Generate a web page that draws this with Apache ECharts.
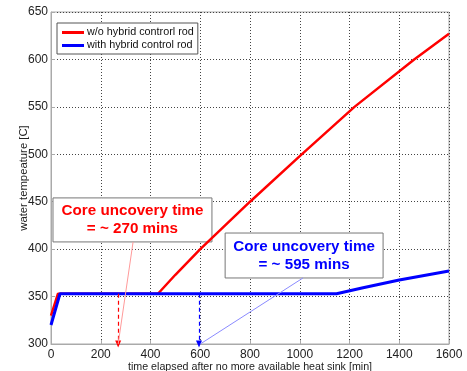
<!DOCTYPE html>
<html><head><meta charset="utf-8">
<script src="https://cdn.jsdelivr.net/npm/echarts@6/dist/echarts.min.js"></script>
<style>html,body{margin:0;padding:0;background:#fff}#c{width:467px;height:371px}</style>
</head><body><div id="c"></div>
<script>
const seriesNames = ['w/o hybrid controrl rod', 'with hybrid control rod'];
const redData = [[0,330],[28,353],[430,353],[500,373],[600,400],[800,450],[1000,498],[1220,550],[1460,600],[1600,627]];
const blueData = [[0,320],[36,353],[1148,353],[1250,359],[1400,367.5],[1600,377]];
const xTicks = {min:0, max:1600, interval:200};
const yTicks = {min:300, max:650, interval:50};
const redArrowX = 270, blueArrowX = 595, plateau = 353;
const redNote = 'Core uncovery time\n= ~ 270 mins';
const blueNote = 'Core uncovery time\n= ~ 595 mins';
const redBox = [[8,454],[647,407.6]];
const blueBox = [[700,417],[1335,369.6]];
const redPointer = [[270,300],[330,407.6]];
const bluePointer = [[600,300],[1013,369.6]];

const F = 'Liberation Sans, Arial, sans-serif';
const chart = echarts.init(document.getElementById('c'), null, {renderer:'canvas'});
chart.setOption({
  animation:false,
  grid:{left:51,right:18,top:12,bottom:27,show:true,borderColor:'#aaa',borderWidth:1,
        containLabel:false,outerBoundsMode:'none'},
  legend:{
    orient:'vertical', left:57, top:23, padding:[4,4,3,5],
    borderColor:'#555', borderWidth:1, backgroundColor:'#fff',
    itemWidth:22, itemHeight:3, itemGap:2, icon:'rect',
    textStyle:{fontFamily:F,fontSize:10.8,color:'#111',padding:[0,0,0,-2]},
    data:seriesNames
  },
  xAxis:{type:'value',min:xTicks.min,max:xTicks.max,interval:xTicks.interval,
    name:'time elapsed after no more available heat sink [min]',nameLocation:'middle',nameGap:18,
    nameMoveOverlap:false,
    nameTextStyle:{fontFamily:F,fontSize:10.7,color:'#222'},
    axisLine:{show:true,lineStyle:{color:'#aaa'}},
    axisTick:{inside:true,length:4,lineStyle:{color:'#aaa'}},
    axisLabel:{fontFamily:F,fontSize:12,color:'#222',margin:5,formatter:v=>String(v)},
    splitLine:{show:true,lineStyle:{type:[1,2],color:'#444',width:1}}},
  yAxis:{type:'value',min:yTicks.min,max:yTicks.max,interval:yTicks.interval,
    name:'water tempeature [C]',nameLocation:'middle',nameGap:22,
    nameMoveOverlap:false,
    nameTextStyle:{fontFamily:F,fontSize:11.3,color:'#222'},
    axisLine:{show:true,lineStyle:{color:'#aaa'}},
    axisTick:{inside:true,length:4,lineStyle:{color:'#aaa'}},
    axisLabel:{fontFamily:F,fontSize:12,color:'#222',margin:3,formatter:v=>String(v)},
    splitLine:{show:true,lineStyle:{type:[1,2],color:'#444',width:1}}},
  series:[
    {name:seriesNames[0],type:'line',data:redData,showSymbol:false,symbol:'none',
     lineStyle:{color:'#ff0000',width:2.5},itemStyle:{color:'#ff0000'},z:3,
     markArea:{silent:true,
       itemStyle:{color:'#fff',borderColor:'#777',borderWidth:1},
       label:{position:'inside',fontFamily:F,fontSize:15.2,fontWeight:'bold',color:'#ff0000',lineHeight:18},
       data:[[{coord:redBox[0],name:redNote},{coord:redBox[1]}]]},
     markLine:{silent:true,symbol:['none','none'],label:{show:false},
       data:[
         [{coord:[redArrowX,plateau],symbol:'none',lineStyle:{type:[4,3],color:'#ff0000',width:1.2}},
          {coord:[redArrowX,300],symbol:'triangle',symbolSize:[6,7],symbolRotate:180}],
         [{coord:redPointer[0],lineStyle:{type:'solid',color:'#ff9a9a',width:1}},{coord:redPointer[1]}]
       ]}},
    {name:seriesNames[1],type:'line',data:blueData,showSymbol:false,symbol:'none',
     lineStyle:{color:'#0000ff',width:3},itemStyle:{color:'#0000ff'},z:4,
     markArea:{silent:true,
       itemStyle:{color:'#fff',borderColor:'#777',borderWidth:1},
       label:{position:'inside',fontFamily:F,fontSize:15.2,fontWeight:'bold',color:'#0000ff',lineHeight:18},
       data:[[{coord:blueBox[0],name:blueNote},{coord:blueBox[1]}]]},
     markLine:{silent:true,symbol:['none','none'],label:{show:false},
       data:[
         [{coord:[blueArrowX,plateau],symbol:'none',lineStyle:{type:[4,3],color:'#0000ff',width:1.2}},
          {coord:[blueArrowX,300],symbol:'triangle',symbolSize:[6,7],symbolRotate:180}],
         [{coord:bluePointer[0],lineStyle:{type:'solid',color:'#8a8aff',width:1}},{coord:bluePointer[1]}]
       ]}}
  ]
});
</script></body></html>
